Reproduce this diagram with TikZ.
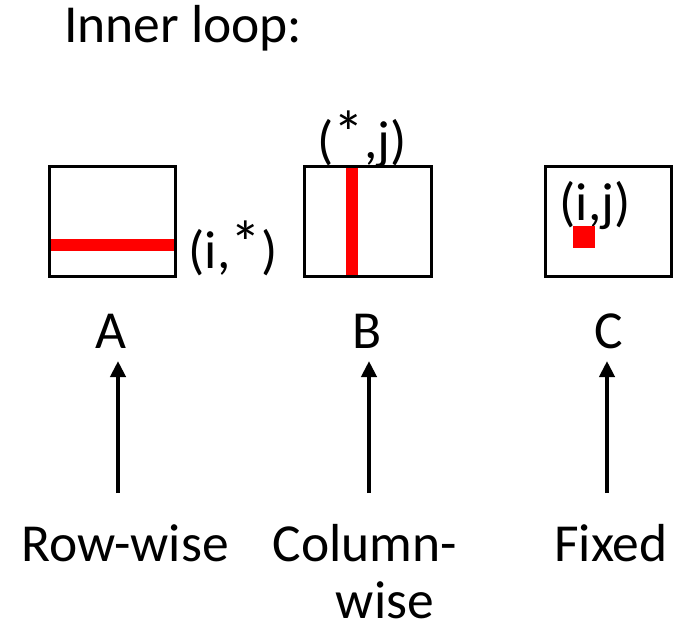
\documentclass[tikz,border=0pt]{standalone}
\usepackage{fontspec}
\usepackage{graphicx}
\setmainfont{Carlito}
\usetikzlibrary{arrows.meta}
\newcommand{\hiast}{\smash{\raisebox{0.08em}{\scalebox{1.15}{*}}}}
\begin{document}
\begin{tikzpicture}[x=1pt,y=-1pt,
  lbl/.style={inner sep=0pt,font=\fontsize{53.5}{64}\selectfont},
  mat/.style={draw=black,line width=3pt,inner sep=0pt,minimum height=110pt},
  arr/.style={line width=4.5pt,-{Triangle[width=15pt,length=16pt]}}]
\useasboundingbox (0,0) rectangle (679,626);
% title
\node[lbl,anchor=base west] (title) at (64,43) {Inner loop:};
% matrices
\fill[red] (50,239) rectangle (174,251);
\node[mat,minimum width=126pt] (boxA) at (112,221) {};
\fill[red] (346,167) rectangle (358,275);
\node[mat,minimum width=127pt] (boxB) at (367.5,221) {};
\node[mat,minimum width=126pt] (boxC) at (608,221) {};
% index labels
\node[lbl] (ia) at (233,253) {(i,\hiast)};
\node[lbl] (sj) at (362,144) {(\hiast,j)};
\node[lbl] (ij) at (595,206) {(i,j)};
\fill[red] (573,226) rectangle (595,248);
% matrix names
\node[lbl,anchor=base] (A) at (111,348) {A};
\node[lbl,anchor=base] (B) at (367,348) {B};
\node[lbl,anchor=base] (C) at (609,348) {C};
% bottom labels
\node[lbl,anchor=base] (rw) at (125,561) {Row-wise};
\node[lbl,anchor=base] (cw1) at (365,561) {Column-};
\node[lbl,anchor=base] (cw2) at (385,618) {wise};
\node[lbl,anchor=base] (fx) at (611,561) {Fixed};
% arrows
\coordinate (aS) at (118,493); \coordinate (aE) at (118,361);
\coordinate (bS) at (369,493); \coordinate (bE) at (369,361);
\coordinate (cS) at (607,493); \coordinate (cE) at (607,361);
\draw[arr] (aS) -- (aE);
\draw[arr] (bS) -- (bE);
\draw[arr] (cS) -- (cE);
\end{tikzpicture}
\end{document}
